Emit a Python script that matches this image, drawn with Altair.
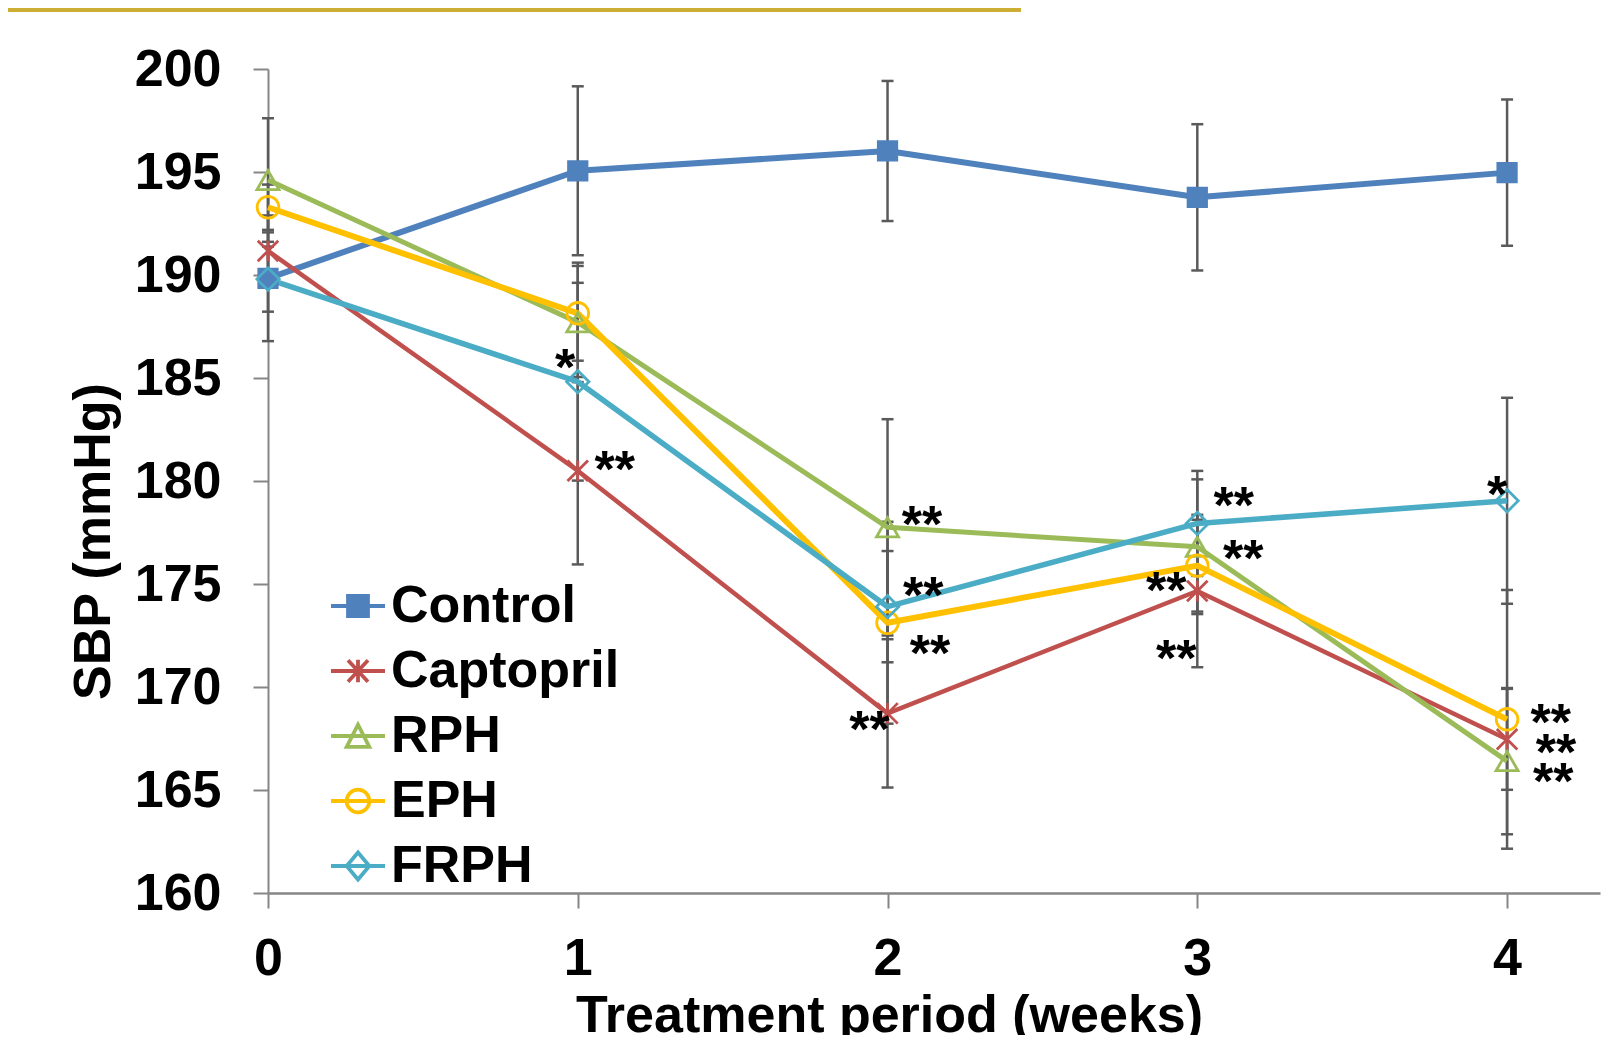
import altair as alt
import pandas as pd

# ---------------- data ----------------
weeks = [0, 1, 2, 3, 4]
series_names = ["Control", "Captopril", "RPH", "EPH", "FRPH"]

control = [189.84, 195.06, 196.02, 193.77, 194.97]
captopril = [191.17, 180.50, 168.72, 174.66, 167.46]
rph = [194.61, 187.70, 177.75, 176.81, 166.40]
eph = [193.29, 188.14, 173.12, 175.89, 168.43]
frph = [189.80, 184.82, 173.90, 177.94, 179.04]

control_se = [3.05, 4.10, 3.40, 3.55, 3.55]
captopril_se = [0.90, 4.55, 3.60, 3.70, 2.45]
rph_se = [3.00, 2.90, 5.25, 3.27, 3.55]
eph_se = [1.10, 2.30, 4.90, 2.23, 6.28]
frph_se = [1.58, 4.80, 2.70, 2.55, 5.00]

# significance marks (anchor in data units)
note_week = [0.959, 1.119, 2.111, 2.115, 2.137, 1.942, 3.118, 3.148, 2.900, 2.932, 3.968, 4.141, 4.158, 4.149]
note_sbp = [186.07, 181.14, 178.47, 175.00, 172.18, 168.48, 179.37, 176.80, 175.24, 171.96, 179.90, 168.84, 167.38, 165.97]
note_text = ["*", "**", "**", "**", "**", "**", "**", "**", "**", "**", "*", "**", "**", "**"]

y_ticks = [160, 165, 170, 175, 180, 185, 190, 195, 200]
x_ticks = [0, 1, 2, 3, 4]

# ---------------- styles ----------------
FONT = "Liberation Sans"
colors = {"Control": "#4F81BD", "Captopril": "#C0504D", "RPH": "#9BBB59",
          "EPH": "#FFC000", "FRPH": "#4BACC6"}
fills = {"Control": "#4F81BD", "Captopril": "transparent", "RPH": "transparent",
         "EPH": "transparent", "FRPH": "transparent"}
shapes = {"Control": "square", "Captopril": "M-1,-1L1,1M-1,1L1,-1M0,-1L0,1",
          "RPH": "triangle-up", "EPH": "circle", "FRPH": "diamond"}
msizes = {"Control": 340, "Captopril": 420, "RPH": 484, "EPH": 470, "FRPH": 500}
lwidths = {"Control": 6, "Captopril": 4.5, "RPH": 5, "EPH": 6, "FRPH": 5.5}
legend_paths = [
    "M-1,0L1,0M-0.37,-0.37L0.37,-0.37L0.37,0.37L-0.37,0.37Z",
    "M-1,0L1,0M-0.37,-0.4L0.37,0.4M-0.37,0.4L0.37,-0.4M0,-0.42L0,0.42",
    "M-1,0L1,0M-0.42,0.4L0,-0.42L0.42,0.4Z",
    "M-1,0L1,0M0.42,0A0.42,0.42,0,1,1,-0.42,0A0.42,0.42,0,1,1,0.42,0",
    "M-1,0L1,0M0,-0.5L0.42,0L0,0.5L-0.42,0Z",
]
ERR = "#5A5A5A"
AXC = "#868686"
GOLD = "#CDAE34"

# ---------------- tables ----------------
rows = []
for name, vals, ses in zip(series_names, [control, captopril, rph, eph, frph],
                           [control_se, captopril_se, rph_se, eph_se, frph_se]):
    for w, v, s in zip(weeks, vals, ses):
        rows.append(dict(series=name, week=w, sbp=v, lo=v - s, hi=v + s,
                         col=colors[name], fillcol=fills[name], shp=shapes[name],
                         msize=msizes[name]))
df = pd.DataFrame(rows)

caps = pd.concat([
    df[["series", "week", "lo"]].rename(columns={"lo": "cap"}),
    df[["series", "week", "hi"]].rename(columns={"hi": "cap"}),
])
notes = pd.DataFrame({"week": note_week, "sbp": note_sbp, "label": note_text})

# ---------------- axes ----------------
xscale = alt.Scale(domain=[0, 4.3], nice=False, zero=False)
yscale = alt.Scale(domain=[160, 200], nice=False, zero=False)

x_axis = alt.Axis(values=x_ticks, title="Treatment period (weeks)", grid=False,
                  tickSize=15, tickWidth=2, tickColor=AXC, domainColor=AXC, domainWidth=2.5,
                  labelFont=FONT, labelFontSize=52, labelFontWeight="bold", labelColor="black",
                  labelPadding=25, labelFlush=False,
                  titleFont=FONT, titleFontSize=52, titleFontWeight="bold", titleColor="black",
                  titleX=621, titleY=138, titleAlign="center", titleBaseline="alphabetic")
y_axis = alt.Axis(values=y_ticks, title="SBP (mmHg)", grid=False,
                  tickSize=15, tickWidth=2, tickColor=AXC, domainColor=AXC, domainWidth=2,
                  labelFont=FONT, labelFontSize=52, labelFontWeight="bold", labelColor="black",
                  labelPadding=32, labelFlush=False,
                  titleFont=FONT, titleFontSize=52, titleFontWeight="bold", titleColor="black",
                  titleAngle=270, titleX=-159, titleY=472, titleAlign="center",
                  titleBaseline="alphabetic")


def X(field="week"):
    return alt.X(f"{field}:Q", scale=xscale, axis=x_axis)


def Y(field):
    return alt.Y(f"{field}:Q", scale=yscale, axis=y_axis)


err_rules = alt.Chart(df).mark_rule(color=ERR, strokeWidth=2.5).encode(
    x=X(), y=Y("lo"), y2="hi:Q")
err_caps = alt.Chart(caps).mark_tick(color=ERR, orient="horizontal", size=12,
                                      thickness=2.5, opacity=1).encode(x=X(), y=Y("cap"))

line_layers = []
for name in series_names:
    line_layers.append(
        alt.Chart(df).transform_filter(alt.datum.series == name).mark_line(
            color=colors[name], strokeWidth=lwidths[name], opacity=1, strokeJoin="round"
        ).encode(x=X(), y=Y("sbp"), order=alt.Order("week:Q"))
    )

points = alt.Chart(df).mark_point(filled=True, opacity=1, strokeWidth=2.8).encode(
    x=X(), y=Y("sbp"),
    stroke=alt.Stroke("col:N", scale=None),
    fill=alt.Fill("fillcol:N", scale=None),
    shape=alt.Shape("shp:N", scale=None),
    size=alt.Size("msize:Q", scale=None),
)

texts = alt.Chart(notes).mark_text(font=FONT, fontSize=52, fontWeight="bold", color="black",
                                   align="center", baseline="alphabetic", dy=29).encode(
    x=X(), y=Y("sbp"), text="label:N")

leg = alt.Legend(title=None, orient="none", legendX=61, legendY=508, symbolSize=2916,
                 symbolStrokeWidth=3.8, symbolOpacity=1, labelFont=FONT, labelFontSize=52,
                 labelFontWeight="bold", labelColor="black", rowPadding=10, labelOffset=4,
                 labelLimit=500, padding=0)

legend_layer = alt.Chart(df).transform_filter("datum.week < 0").mark_point(
    filled=True, opacity=1).encode(
    x=X(), y=Y("sbp"),
    stroke=alt.Stroke("series:N", scale=alt.Scale(domain=series_names,
                                                  range=[colors[n] for n in series_names]),
                      legend=leg),
    fill=alt.Fill("series:N", scale=alt.Scale(domain=series_names,
                                              range=[fills[n] for n in series_names]),
                  legend=leg),
    shape=alt.Shape("series:N", scale=alt.Scale(domain=series_names, range=legend_paths),
                    legend=leg),
)

gold = alt.Chart(pd.DataFrame({"bar": [0]})).mark_rule(color=GOLD, strokeWidth=8,
                                                        strokeCap="butt").encode(
    x=alt.value(-260), x2=alt.value(753), y=alt.value(-61))

chart = alt.layer(err_rules, err_caps, *line_layers, points, texts, legend_layer, gold).properties(
    width=1332, height=824,
    autosize=alt.AutoSizeParams(type="none"),
    padding={"left": 260, "top": 61, "right": 7, "bottom": 142},
).configure_view(stroke=None)

chart.save("out.html", embed_options={"renderer": "svg", "actions": False})
